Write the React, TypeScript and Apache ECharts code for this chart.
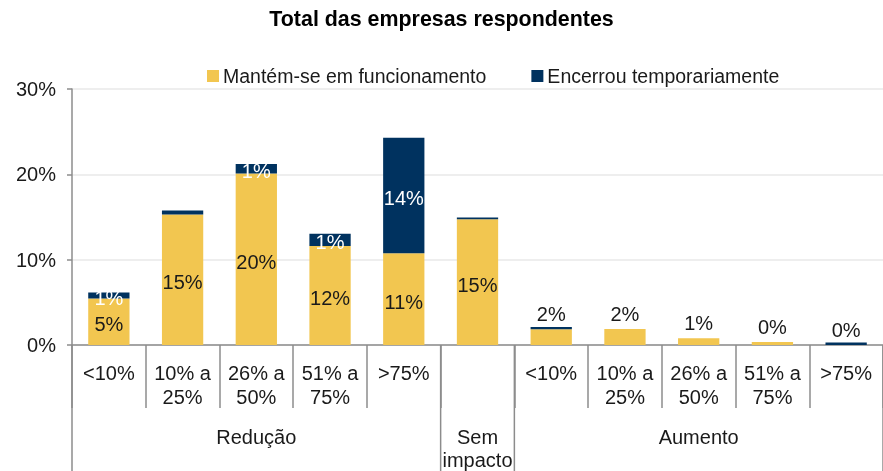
import React, { useEffect, useRef } from "react";
import * as echarts from "echarts";

const categories = ["<10%", "10% a\n25%", "26% a\n50%", "51% a\n75%", ">75%", "", "<10%", "10% a\n25%", "26% a\n50%", "51% a\n75%", ">75%"];
const groupLabels = ["", "", "Redução", "", "", "Sem\nimpacto", "", "", "Aumento", "", ""];
const groupSizes = [5, 1, 5];
const manteve = [5.45, 15.3, 20.1, 11.6, 10.75, 14.75, 1.85, 1.88, 0.78, 0.35, 0];
const encerrou = [0.7, 0.45, 1.1, 1.45, 13.55, 0.2, 0.25, 0, 0, 0, 0.3];
const seriesNames = ["Mantém-se em funcionamento", "Encerrou temporariamente"];
const yTicks = { min: 0, max: 30, interval: 10 };

const FONT = "'Liberation Sans', Arial, sans-serif";
const YELLOW = "#F2C650";
const NAVY = "#00325F";
const AXIS = "#8c8c8c";

export default function App() {
  const ref = useRef<HTMLDivElement>(null);
  useEffect(() => {
    if (!ref.current) return;
    const chart = echarts.init(ref.current, undefined, { renderer: "svg" });
    const fmt = (v: number) => Math.round(v) + "%";
    const option: any = {
      animation: false,
      title: {
        text: "Total das empresas respondentes",
        left: "center",
        top: 3,
        textStyle: { fontFamily: FONT, fontSize: 21.4, fontWeight: "bold", color: "#000" },
      },
      legend: {
        left: 202,
        top: 61,
        itemWidth: 12,
        itemHeight: 12,
        itemGap: 45,
        icon: "rect",
        textStyle: { fontFamily: FONT, fontSize: 19.5, color: "#1a1a1a", padding: [0, 0, 0, -1] },
        data: seriesNames,
      },
      grid: { left: 72, right: 0, top: 89, bottom: 125.5, containLabel: false },
      xAxis: [
        {
          type: "category",
          data: categories,
          axisLine: { lineStyle: { color: AXIS, width: 1.5 } },
          axisTick: { show: true, interval: 0, length: 63, lineStyle: { color: AXIS, width: 1.5 } },
          axisLabel: {
            interval: 0,
            margin: 16,
            fontFamily: FONT,
            fontSize: 20,
            lineHeight: 24,
            color: "#1a1a1a",
            verticalAlign: "top",
          },
        },
        {
          type: "category",
          data: groupLabels,
          position: "bottom",
          axisLine: { show: false },
          axisTick: { show: false },
          axisLabel: {
            interval: 0,
            margin: 80,
            fontFamily: FONT,
            fontSize: 20,
            lineHeight: 23,
            color: "#1a1a1a",
            verticalAlign: "top",
          },
        },
      ],
      yAxis: {
        type: "value",
        min: yTicks.min,
        max: yTicks.max,
        interval: yTicks.interval,
        axisLine: { show: true, lineStyle: { color: AXIS, width: 1.5 } },
        axisTick: { show: true, length: 5, lineStyle: { color: AXIS, width: 1.5 } },
        splitLine: { lineStyle: { color: "#e8e8e8", width: 1.5 } },
        axisLabel: {
          formatter: "{value}%",
          margin: 16,
          fontFamily: FONT,
          fontSize: 20,
          color: "#1a1a1a",
        },
      },
      series: [
        {
          name: seriesNames[0],
          type: "bar",
          stack: "total",
          barWidth: "56%",
          itemStyle: { color: YELLOW },
          data: manteve.map((v) => ({
            value: v,
            label: {
              show: true,
              position: v < 3 ? "top" : "inside",
              distance: 5,
              offset: v < 3 ? [0, 0] : [0, 2.5],
              formatter: () => fmt(v),
              fontFamily: FONT,
              fontSize: 20,
              color: "#1a1a1a",
            },
          })),
        },
        {
          name: seriesNames[1],
          type: "bar",
          stack: "total",
          barWidth: "56%",
          itemStyle: { color: NAVY },
          data: encerrou.map((v) => ({
            value: v,
            label: {
              show: Math.round(v) >= 1,
              position: "inside",
              offset: [0, 2.5],
              formatter: () => fmt(v),
              fontFamily: FONT,
              fontSize: 20,
              color: "#ffffff",
            },
          })),
        },
      ],
    };
    chart.setOption(option);

    // group separators, computed from the category axis
    const c0 = chart.convertToPixel({ xAxisIndex: 0 }, 0) as number;
    const c1 = chart.convertToPixel({ xAxisIndex: 0 }, 1) as number;
    const bw = c1 - c0;
    const yBase = chart.convertToPixel({ yAxisIndex: 0 }, 0) as number;
    const h = chart.getHeight();
    const bounds: number[] = [0];
    groupSizes.reduce((acc, s) => {
      bounds.push(acc + s);
      return acc + s;
    }, 0);
    const lines = bounds.map((b) => {
      const x = c0 + (b - 0.5) * bw;
      return {
        type: "line",
        shape: { x1: x, y1: yBase, x2: x, y2: h },
        style: { stroke: AXIS, lineWidth: 1.5 },
        silent: true,
      };
    });
    chart.setOption({ graphic: lines });

    return () => chart.dispose();
  }, []);
  return (
    <div
      ref={ref}
      style={{ position: "fixed", left: 0, top: 0, width: 883, height: 471 }}
    />
  );
}
